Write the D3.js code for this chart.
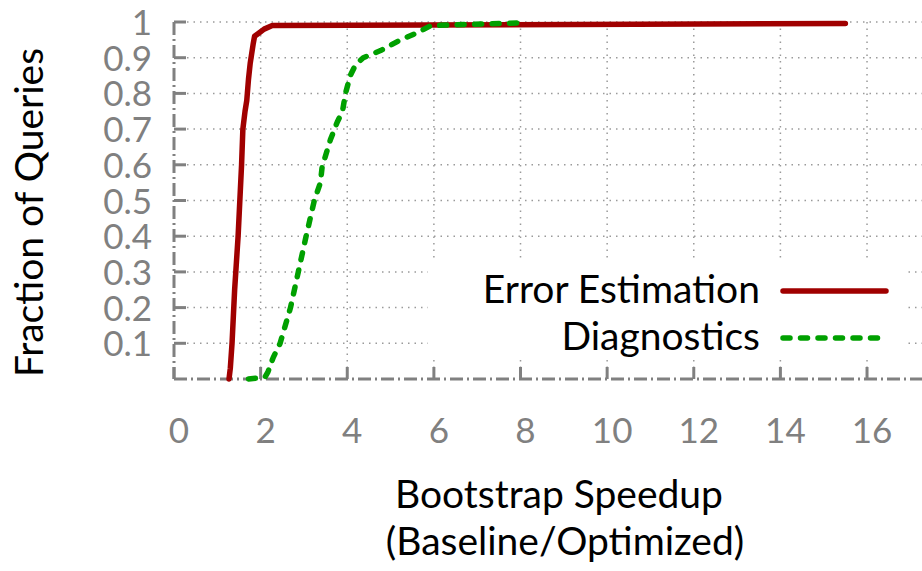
<!DOCTYPE html>
<html>
<head>
<meta charset="utf-8">
<script src="https://cdn.jsdelivr.net/npm/d3@7"></script>
<style>
    body { margin: 0; background: #fff; }
    svg { display: block; font-family: Lato, "Open Sans", sans-serif; }
    .grid line { stroke: #9a9a9a; stroke-width: 1.5; stroke-dasharray: 1.5 5; }
    .border { stroke: #808080; stroke-width: 3; stroke-dasharray: 13 4 2 4; fill: none; }
    .tick-mark { stroke: #808080; stroke-width: 3; }
    .tick-label { fill: #808080; font-size: 35px; }
    .title { fill: #000; font-size: 39px; }
</style>
</head>
<body>
<div id="chart"></div>
<script>
// data
const xTicks = [0, 2, 4, 6, 8, 10, 12, 14, 16];
const yTicks = [0.1, 0.2, 0.3, 0.4, 0.5, 0.6, 0.7, 0.8, 0.9, 1];
const yTickLabels = ['0.1', '0.2', '0.3', '0.4', '0.5', '0.6', '0.7', '0.8', '0.9', '1'];

const seriesNames = ['Error Estimation', 'Diagnostics'];

const errorX = [1.27, 1.30, 1.34, 1.40, 1.48, 1.52, 1.56, 1.59, 1.64, 1.68, 1.72, 1.76, 1.83, 1.86, 1.97, 2.08, 2.27, 15.5];
const errorY = [0, 0.03, 0.1, 0.25, 0.4, 0.5, 0.6, 0.7, 0.75, 0.78, 0.84, 0.885, 0.94, 0.96, 0.97, 0.98, 0.99, 0.996];

const diagX = [1.72, 2.10, 2.17, 2.29, 2.45, 2.69, 2.87, 3.05, 3.24, 3.38, 3.42, 3.61, 3.77, 3.89, 3.96, 4.07, 4.19, 4.37, 4.77, 5.23, 5.62, 5.93, 8.06];
const diagY = [0, 0.005, 0.02, 0.06, 0.1, 0.2, 0.3, 0.4, 0.5, 0.55, 0.594, 0.67, 0.72, 0.75, 0.8, 0.85, 0.88, 0.9, 0.92, 0.95, 0.97, 0.99, 0.998];

const width = 922, height = 571;
const margin = [22, 192, 174, -10]; // top, bottom, left, right (plot runs past the right edge)

const svg = d3.select('#chart').append('svg')
    .attr('width', width)
    .attr('height', height);

const x = d3.scaleLinear([0, 17.5], [margin[2], width - margin[3]]);
const y = d3.scaleLinear([0, 1], [height - margin[1], margin[0]]);

// grid
const grid = svg.append('g').classed('grid', true);
grid.selectAll('line.h')
    .data(yTicks)
    .join('line')
    .attr('x1', x(0)).attr('x2', width)
    .attr('y1', d => y(d)).attr('y2', d => y(d));
grid.selectAll('line.v')
    .data(xTicks.filter(d => d > 0))
    .join('line')
    .attr('x1', d => x(d)).attr('x2', d => x(d))
    .attr('y1', y(1)).attr('y2', y(0));

// opaque key box hides the grid behind the legend
svg.append('rect')
    .attr('x', 428).attr('y', 262)
    .attr('width', 476).attr('height', 98)
    .attr('fill', '#fff');

// axes: tick marks
svg.append('g').selectAll('line')
    .data(yTicks)
    .join('line')
    .classed('tick-mark', true)
    .attr('x1', x(0)).attr('x2', x(0) + 12)
    .attr('y1', d => y(d)).attr('y2', d => y(d));
svg.append('g').selectAll('line')
    .data(xTicks)
    .join('line')
    .classed('tick-mark', true)
    .attr('x1', d => x(d)).attr('x2', d => x(d))
    .attr('y1', y(0)).attr('y2', y(0) - 12);

// axes: dash-dot border lines (left and bottom)
svg.append('path').classed('border', true)
    .attr('d', `M${x(0)},${y(1)}V${y(0)}`);
svg.append('path').classed('border', true)
    .attr('d', `M${x(0)},${y(0)}H${width}`);

// tick labels
svg.append('g').selectAll('text')
    .data(yTicks)
    .join('text')
    .classed('tick-label', true)
    .attr('x', x(0) - 22)
    .attr('y', d => y(d) + 13)
    .style('text-anchor', 'end')
    .text((d, i) => yTickLabels[i]);
svg.append('g').selectAll('text')
    .data(xTicks)
    .join('text')
    .classed('tick-label', true)
    .attr('x', d => x(d) + 5)
    .attr('y', y(0) + 64)
    .style('text-anchor', 'middle')
    .text(d => d);

// axis titles
svg.append('text').classed('title', true)
    .attr('transform', `translate(43, ${(y(0) + y(1)) / 2 + 12})rotate(-90)`)
    .style('text-anchor', 'middle')
    .text('Fraction of Queries');
svg.append('text').classed('title', true)
    .attr('x', 559).attr('y', 508)
    .style('text-anchor', 'middle')
    .text('Bootstrap Speedup');
svg.append('text').classed('title', true)
    .attr('x', 565).attr('y', 555)
    .style('text-anchor', 'middle')
    .text('(Baseline/Optimized)');

// curves
const line = d3.line().x(d => x(d[0])).y(d => y(d[1]));
const series = [
    { name: seriesNames[0], pts: d3.zip(errorX, errorY), color: '#a00000', dash: null },
    { name: seriesNames[1], pts: d3.zip(diagX, diagY), color: '#00a000', dash: '7 10.5' }
];
svg.append('g').selectAll('path')
    .data(series)
    .join('path')
    .attr('d', d => line(d.pts))
    .attr('fill', 'none')
    .attr('stroke', d => d.color)
    .attr('stroke-width', 5.5)
    .attr('stroke-linecap', 'round')
    .attr('stroke-linejoin', 'round')
    .attr('stroke-dasharray', d => d.dash);

// legend
const key = svg.append('g').selectAll('g')
    .data(series)
    .join('g')
    .attr('transform', (d, i) => `translate(0, ${291 + i * 47})`);
key.append('text').classed('title', true)
    .attr('x', 760).attr('y', 12)
    .style('text-anchor', 'end')
    .text(d => d.name);
key.append('line')
    .attr('x1', 783).attr('x2', 886)
    .attr('stroke', d => d.color)
    .attr('stroke-width', 5.5)
    .attr('stroke-linecap', 'round')
    .attr('stroke-dasharray', d => d.dash);
</script>
</body>
</html>
